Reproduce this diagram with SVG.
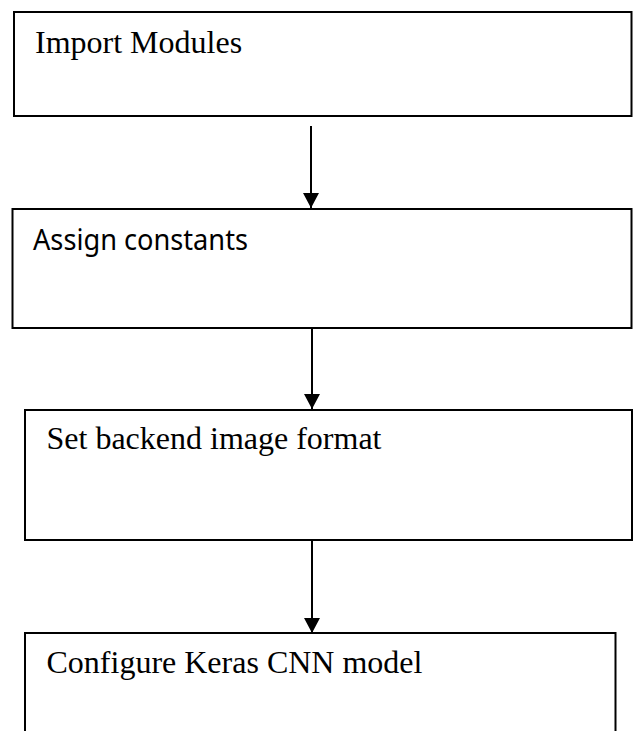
<svg xmlns="http://www.w3.org/2000/svg" width="633" height="731" viewBox="0 0 633 731">
  <defs>
    <marker id="arrowhead" markerUnits="userSpaceOnUse" markerWidth="16" markerHeight="16" refX="15" refY="8" orient="auto">
      <path d="M0,0 L15,8 L0,16 Z" fill="#000"/>
    </marker>
    <style>
      .box { fill: #fff; stroke: #000; stroke-width: 2; }
      .serif { font-family: "Liberation Serif", "Times New Roman", serif; font-size: 32px; fill: #000; }
      .sans { font-family: "Noto Sans", "Open Sans", "Liberation Sans", sans-serif; font-size: 29px; fill: #000; }
      .link { fill: none; stroke: #000; stroke-width: 2; marker-end: url(#arrowhead); }
    </style>
  </defs>
  <rect width="633" height="731" fill="#fff"/>

  <g id="connectors">
    <line class="link" x1="311" y1="126" x2="311" y2="208"/>
    <line class="link" x1="312" y1="328" x2="312" y2="409"/>
    <line class="link" x1="312" y1="540" x2="312" y2="633"/>
  </g>

  <g id="node-import">
    <rect class="box" x="14" y="12" width="617.5" height="104"/>
    <text class="serif" x="35" y="53">Import Modules</text>
  </g>

  <g id="node-constants">
    <rect class="box" x="12.5" y="209" width="619" height="119" stroke-width="2.5"/>
    <text class="sans" x="33" y="250" textLength="215" lengthAdjust="spacingAndGlyphs">Assign constants</text>
  </g>

  <g id="node-backend">
    <rect class="box" x="25" y="410" width="607" height="130"/>
    <text class="serif" x="46.5" y="449">Set backend image format</text>
  </g>

  <g id="node-keras">
    <path class="box" d="M25,740 L25,633 L615.5,633 L615.5,740"/>
    <text class="serif" x="46.5" y="673">Configure Keras CNN model</text>
  </g>
</svg>
